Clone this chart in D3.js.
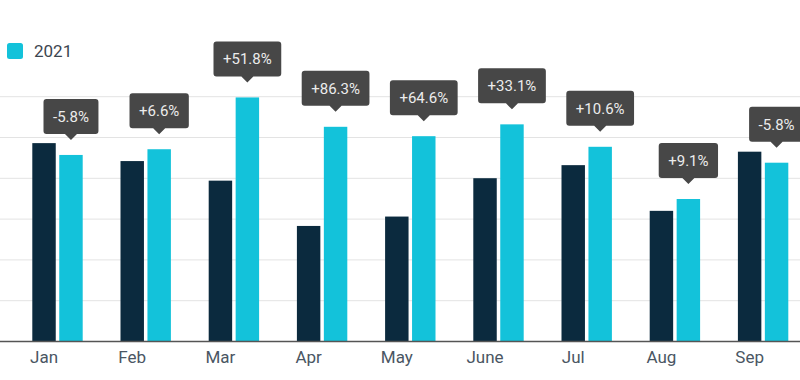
<!DOCTYPE html>
<html>
<head>
<meta charset="utf-8">
<script src="https://cdn.jsdelivr.net/npm/d3@7/dist/d3.min.js"></script>
<style>
  html, body { margin: 0; padding: 0; background: #fff; }
  svg { display: block; font-family: Roboto, "Noto Sans", sans-serif; }
</style>
</head>
<body>
<svg id="chart" width="800" height="380"></svg>
<script>
const months = ["Jan", "Feb", "Mar", "Apr", "May", "June", "Jul", "Aug", "Sep"];
const seriesNames = ["2020", "2021"];
const values2020 = [48.5, 44.1, 39.3, 28.2, 30.5, 39.9, 43.1, 31.9, 46.4];
const values2021 = [45.6, 47.0, 59.7, 52.5, 50.2, 53.1, 47.6, 34.8, 43.7];
const changeLabels = ["-5.8%", "+6.6%", "+51.8%", "+86.3%", "+64.6%", "+33.1%", "+10.6%", "+9.1%", "-5.8%"];
const yTicks = [0, 10, 20, 30, 40, 50, 60];

const W = 800, H = 380;
const colors = { "2020": "#0b2a3e", "2021": "#13c2da" };

const svg = d3.select("#chart");

const x = d3.scaleBand().domain(months).range([32.3, 788.3]).paddingInner(0.4286).paddingOuter(0);
const x1 = d3.scaleBand().domain(seriesNames).range([0, x.bandwidth()]).paddingInner(0.13);
const y = d3.scaleLinear().domain([0, 60]).range([341, 96.2]);

// gridlines
const grid = svg.append("g")
  .attr("transform", `translate(${W},0)`)
  .call(d3.axisLeft(y).tickValues(yTicks.filter(t => t > 0)).tickSize(W).tickFormat(""));
grid.select(".domain").remove();
grid.selectAll(".tick line").attr("stroke", "#e3e3e3").attr("stroke-width", 1);

// bars
const data = months.map((m, i) => ({ month: m, v: { "2020": values2020[i], "2021": values2021[i] }, label: changeLabels[i] }));

const groups = svg.append("g").selectAll("g").data(data).join("g")
  .attr("transform", d => `translate(${x(d.month)},0)`);

groups.selectAll("rect").data(d => seriesNames.map(s => ({ s, v: d.v[s] }))).join("rect")
  .attr("x", d => x1(d.s))
  .attr("width", x1.bandwidth())
  .attr("y", d => y(d.v))
  .attr("height", d => y(0) - y(d.v))
  .attr("fill", d => colors[d.s]);

// baseline
svg.append("line")
  .attr("x1", 0).attr("x2", W)
  .attr("y1", y(0) + 0.5).attr("y2", y(0) + 0.5)
  .attr("stroke", "#555").attr("stroke-width", 1.4);

// x axis labels (centered under 2020 bar)
const xAxis = svg.append("g")
  .attr("transform", `translate(${x1("2020") + x1.bandwidth() / 2 - x.bandwidth() / 2},${y(0)})`)
  .call(d3.axisBottom(x).tickSize(0).tickPadding(10));
xAxis.select(".domain").remove();
xAxis.selectAll("text")
  .attr("font-family", "Roboto, sans-serif")
  .attr("font-size", 17)
  .attr("fill", "#4a5663");

// callouts
const callouts = svg.append("g").selectAll("g").data(data).join("g")
  .attr("transform", d => `translate(${x(d.month) + x1("2021") + x1.bandwidth() / 2},${y(d.v["2021"]) - 15})`);

callouts.each(function (d) {
  const g = d3.select(this);
  const path = g.append("path").attr("fill", "#474747");
  const text = g.append("text")
    .attr("text-anchor", "middle")
    .attr("font-family", "Roboto, sans-serif")
    .attr("font-size", 15)
    .attr("fill", "#ececec")
    .attr("y", -6 - 17.5)
    .attr("dy", "0.36em")
    .text(d.label);
  const tw = text.node().getComputedTextLength();
  const bw = tw + 19, bh = 35, r = 3, ph = 6, pw = 6;
  const l = -bw / 2, rr = bw / 2, b = -ph, t = -ph - bh;
  const p = d3.path();
  p.moveTo(l + r, t);
  p.lineTo(rr - r, t);
  p.quadraticCurveTo(rr, t, rr, t + r);
  p.lineTo(rr, b - r);
  p.quadraticCurveTo(rr, b, rr - r, b);
  p.lineTo(pw, b);
  p.lineTo(0, 0);
  p.lineTo(-pw, b);
  p.lineTo(l + r, b);
  p.quadraticCurveTo(l, b, l, b - r);
  p.lineTo(l, t + r);
  p.quadraticCurveTo(l, t, l + r, t);
  p.closePath();
  path.attr("d", p.toString());
});

// legend (only the visible 2021 item)
const legend = svg.append("g").attr("transform", "translate(7,43)");
legend.append("rect").attr("width", 16).attr("height", 16).attr("rx", 2.5).attr("fill", colors["2021"]);
legend.append("text")
  .attr("x", 27).attr("y", 8).attr("dy", "0.36em")
  .attr("font-family", "Roboto, sans-serif")
  .attr("font-size", 17)
  .attr("fill", "#3d4650")
  .text(seriesNames[1]);
</script>
</body>
</html>
